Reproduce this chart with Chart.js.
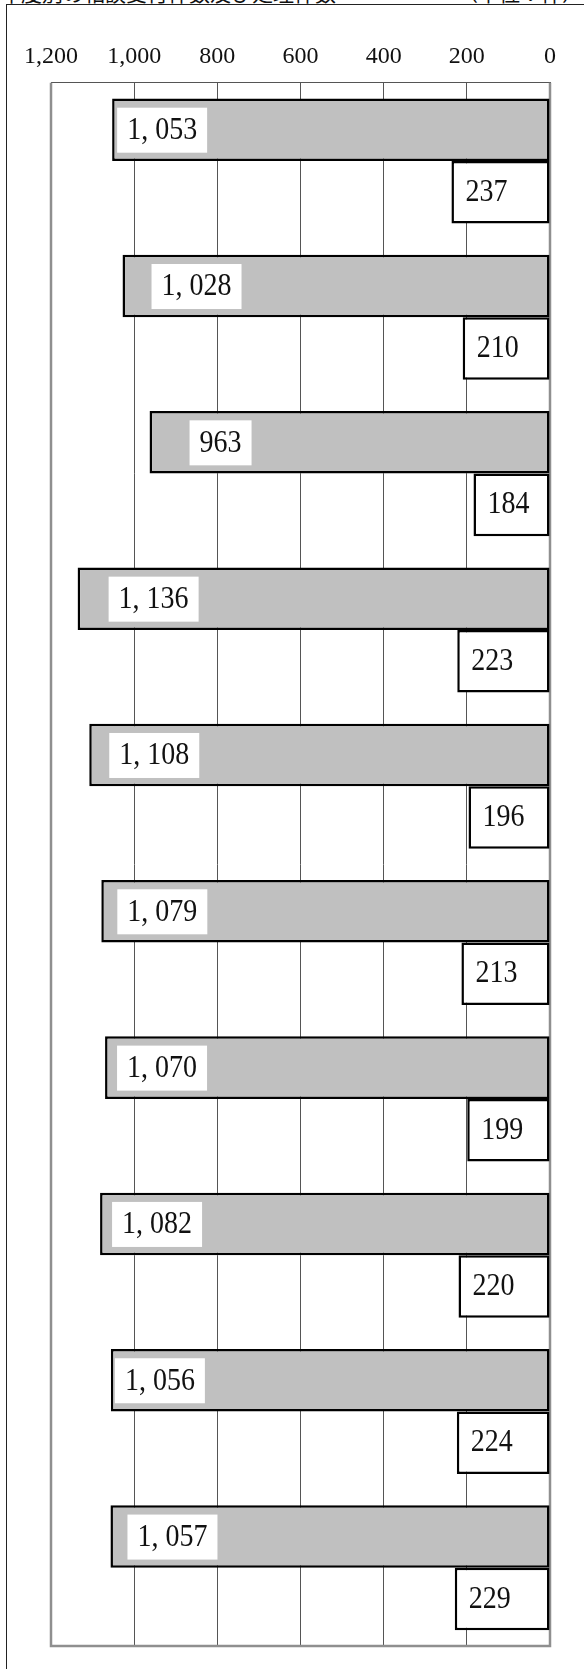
<!DOCTYPE html>
<html>
<head>
<meta charset="utf-8">
<script src="https://cdn.jsdelivr.net/npm/chart.js@4"></script>
<style>
html, body { margin: 0; padding: 0; background: #fff; overflow: hidden; }
#wrap { position: relative; width: 584px; height: 1669px; overflow: hidden; }
#frame { position: absolute; left: 6px; top: 4px; width: 640px; height: 1720px; border-left: 1.5px solid #222; border-top: 1.5px solid #222; }
.ttl { position: absolute; top: -18px; font: 21px/21px "Noto Sans CJK JP"; color: #111; white-space: nowrap; }
canvas { position: absolute; left: 0; top: 0; }
</style>
</head>
<body>
<div id="wrap">
    <div class="ttl" style="left:0px">年度別の相談受付件数及び処理件数</div>
    <div class="ttl" style="left:457px">（単位：件）</div>
    <div id="frame"></div>
    <canvas id="barChart" width="584" height="1669"></canvas>
</div>
<script>
// values, top bar to bottom bar
var categories = ['1', '2', '3', '4', '5', '6', '7', '8', '9', '10']
var totalCounts = [1053, 1028, 963, 1136, 1108, 1079, 1070, 1082, 1056, 1057]
var subCounts = [237, 210, 184, 223, 196, 213, 199, 220, 224, 229]
var axisMin = 0
var axisMax = 1200
var axisStep = 200

// how far each white label box sits inside its grey bar (px)
var labelNudge = [5, 29, 40, 31, 20, 16, 12, 12, 4, 17]

function fmtLabel(v) {
    // the picture writes thousands as "1, 053"
    return v.toLocaleString('en-US').replace(',', ', ')
}

const framePlugin = {
    id: 'frame',
    beforeDatasetsDraw(chart) {
        const a = chart.chartArea
        const ctx = chart.ctx
        ctx.save()
        ctx.strokeStyle = '#8f8f8f'
        ctx.lineWidth = 2.5
        ctx.beginPath()
        ctx.moveTo(a.left, a.top)
        ctx.lineTo(a.left, a.bottom)
        ctx.lineTo(a.right, a.bottom)
        ctx.lineTo(a.right, a.top)
        ctx.stroke()
        ctx.restore()
    }
}

const labelPlugin = {
    id: 'barLabels',
    afterDatasetsDraw(chart) {
        const ctx = chart.ctx
        const big = chart.getDatasetMeta(0).data
        const small = chart.getDatasetMeta(1).data
        ctx.save()
        ctx.font = '28px "Liberation Serif"'
        ctx.textBaseline = 'middle'
        ctx.textAlign = 'left'
        for (var i = 0; i < big.length; i++) {
            var bar = big[i]
            var txt = fmtLabel(totalCounts[i])
            var w = ctx.measureText(txt).width
            var bx = bar.x + labelNudge[i]
            ctx.fillStyle = '#fff'
            ctx.fillRect(bx, bar.y - 22, w + 20, 45)
            ctx.fillStyle = '#111'
            ctx.save()
            ctx.translate(bx + 10, bar.y + 1)
            ctx.scale(1, 1.15)
            ctx.fillText(txt, 0, 0)
            ctx.restore()
        }
        for (var j = 0; j < small.length; j++) {
            var sb = small[j]
            ctx.fillStyle = '#111'
            ctx.save()
            ctx.translate(sb.x + 14, sb.y)
            ctx.scale(1, 1.15)
            ctx.fillText(fmtLabel(subCounts[j]), 0, 0)
            ctx.restore()
        }
        ctx.restore()
    }
}

var barChart = new Chart(document.getElementById('barChart'), {
    type: 'bar',
    data: {
        labels: categories,
        datasets: [
            {
                label: 'total',
                data: totalCounts,
                backgroundColor: '#c0c0c0',
                borderColor: '#000',
                borderWidth: 2.5,
                borderSkipped: false,
                categoryPercentage: 0.8,
                barPercentage: 1.0
            },
            {
                label: 'sub',
                data: subCounts,
                backgroundColor: '#fff',
                borderColor: '#000',
                borderWidth: 2.5,
                borderSkipped: false,
                categoryPercentage: 0.8,
                barPercentage: 1.0
            }
        ]
    },
    options: {
        indexAxis: 'y',
        responsive: false,
        animation: false,
        devicePixelRatio: 1,
        layout: { padding: { left: 51, right: 34, top: 30, bottom: 23 } },
        plugins: { legend: { display: false }, tooltip: { enabled: false } },
        scales: {
            x: {
                position: 'top',
                reverse: true,
                min: axisMin,
                max: axisMax,
                ticks: {
                    stepSize: axisStep,
                    padding: 12,
                    color: '#111',
                    font: { family: 'Liberation Serif', size: 24 },
                    callback: v => v.toLocaleString('en-US')
                },
                grid: { color: '#555', lineWidth: 1, drawTicks: false },
                border: { display: true, color: '#555', width: 1 }
            },
            y: { display: false }
        }
    },
    plugins: [framePlugin, labelPlugin]
})
</script>
</body>
</html>
